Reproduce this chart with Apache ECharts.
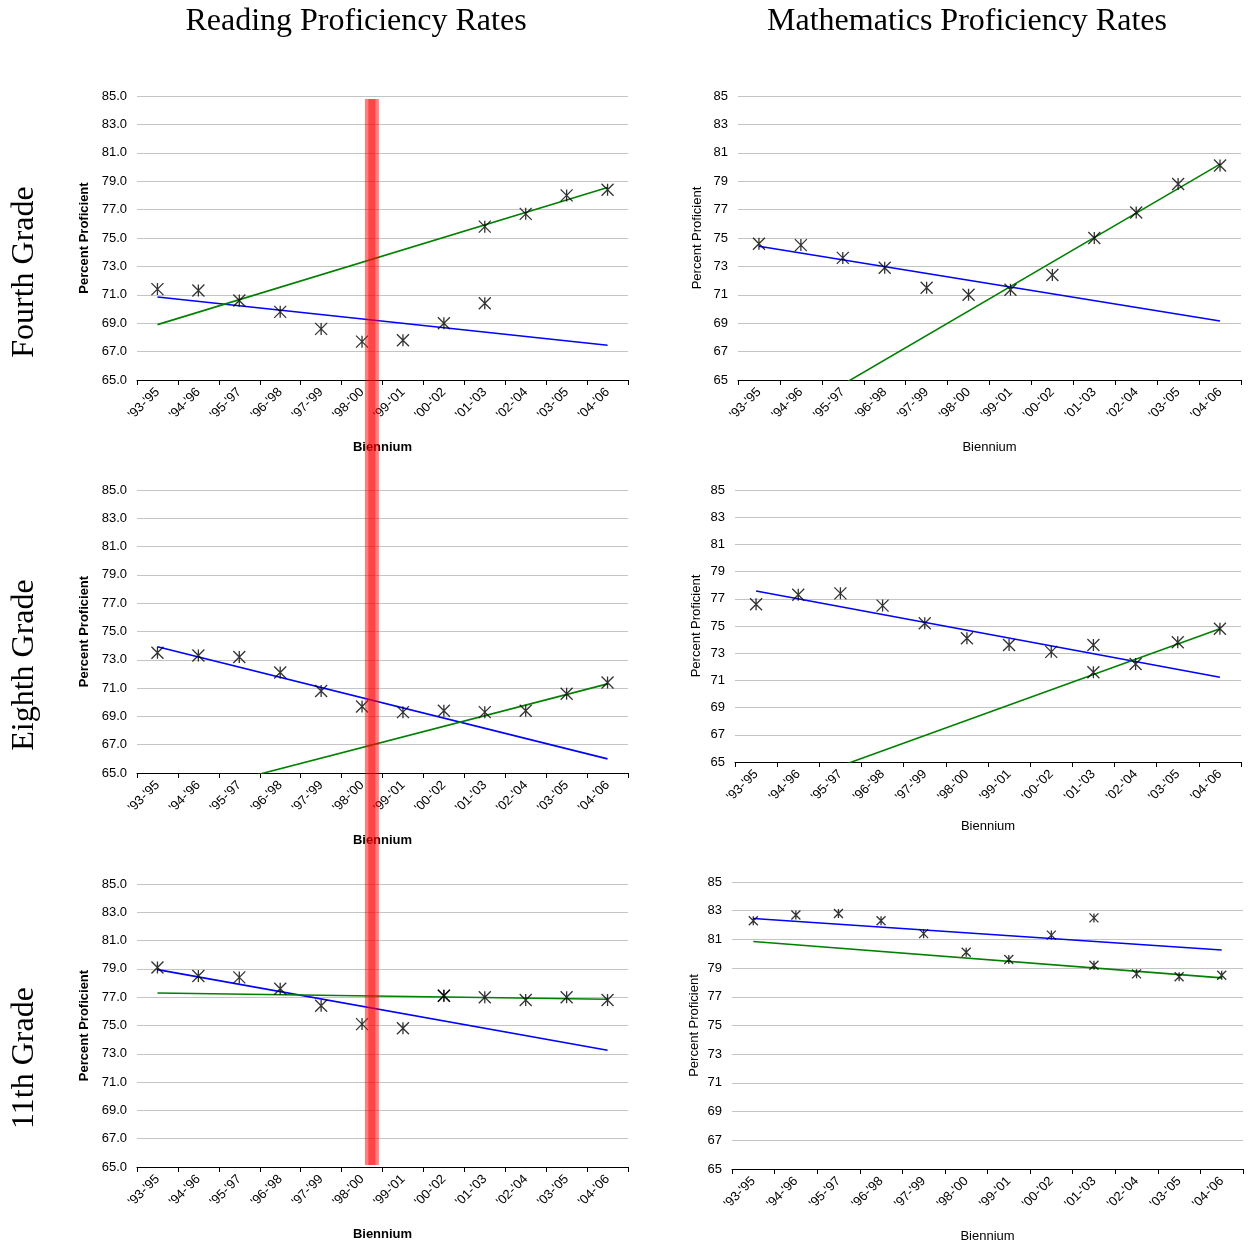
<!DOCTYPE html>
<html>
<head>
<meta charset="utf-8">
<title>Reading and Mathematics Proficiency Rates</title>
<script src="https://cdn.jsdelivr.net/npm/echarts@6/dist/echarts.min.js"></script>
<style>
  html, body { margin: 0; padding: 0; background: #fff; }
  #chart { width: 1249px; height: 1245px; }
</style>
</head>
<body>
<div id="chart"></div>
<script>
// Biennium categories shared by every panel
const categories = ["'93-'95", "'94-'96", "'95-'97", "'96-'98", "'97-'99", "'98-'00",
                    "'99-'01", "'00-'02", "'01-'03", "'02-'04", "'03-'05", "'04-'06"];

// Y-axis ticks (65 to 85 by 2)
const yMin = 65, yMax = 85, yStep = 2;

// Reading, Fourth Grade
const readFourthEarlier = [71.4, 71.3, 70.6, 69.8, 68.6, 67.7, 67.8, 69.0, 70.4, null, null, null];
const readFourthLater   = [null, null, null, null, null, null, null, null, 75.8, 76.7, 78.0, 78.4];
const readFourthTrendEarlier = [70.85, 67.45];   // values at '93-'95 and '04-'06
const readFourthTrendLater   = [68.9, 78.55];

// Mathematics, Fourth Grade
const mathFourthEarlier = [74.6, 74.5, 73.6, 72.9, 71.5, 71.0, 71.35, 72.4, null, null, null, null];
const mathFourthLater   = [null, null, null, null, null, null, null, null, 75.0, 76.8, 78.8, 80.1];
const mathFourthTrendEarlier = [74.42, 69.16];
const mathFourthTrendLater   = [61.24, 80.2];

// Reading, Eighth Grade
const readEighthEarlier = [73.5, 73.3, 73.2, 72.1, 70.8, 69.7, 69.3, 69.4, null, null, null, null];
const readEighthLater   = [null, null, null, null, null, null, null, null, 69.3, 69.4, 70.6, 71.4];
const readEighthTrendEarlier = [73.92, 66.0];
const readEighthTrendLater   = [63.05, 71.3];

// Mathematics, Eighth Grade
const mathEighthEarlier = [76.6, 77.3, 77.4, 76.5, 75.2, 74.1, 73.6, 73.1, 73.6, null, null, null];
const mathEighthLater   = [null, null, null, null, null, null, null, null, 71.6, 72.2, 73.8, 74.8];
const mathEighthTrendEarlier = [77.58, 71.23];
const mathEighthTrendLater   = [62.46, 74.79];

// Reading, 11th Grade
const readEleventhEarlier = [79.1, 78.5, 78.4, 77.6, 76.4, 75.1, 74.8, 77.1, null, null, null, null];
const readEleventhLater   = [null, null, null, null, null, null, null, 77.1, 77.0, 76.8, 77.0, 76.8];
const readEleventhTrendEarlier = [78.95, 73.25];
const readEleventhTrendLater   = [77.3, 76.85];

// Mathematics, 11th Grade
const mathEleventhEarlier = [82.3, 82.7, 82.8, 82.3, 81.4, 80.1, 79.6, 81.3, 82.5, null, null, null];
const mathEleventhLater   = [null, null, null, null, null, null, null, null, 79.2, 78.6, 78.4, 78.5];
const mathEleventhTrendEarlier = [82.46, 80.26];
const mathEleventhTrendLater   = [80.85, 78.32];

const columnTitles = ['Reading Proficiency Rates', 'Mathematics Proficiency Rates'];
const rowTitles = ['Fourth Grade', 'Eighth Grade', '11th Grade'];
const xAxisName = 'Biennium';
const yAxisName = 'Percent Proficient';

// ---- layout & styling ----
const SANS = '"Liberation Sans", Arial, sans-serif';
const SERIF = '"Liberation Serif", "Times New Roman", serif';
const BLUE = '#0000ff';
const GREEN = '#008000';
const STAR = 'path://M0,0L10,10M10,0L0,10M5,0L5,10';

const panels = [
  { grid: {left: 137, top: 96, width: 491, height: 284}, reading: true,
    earlier: readFourthEarlier, later: readFourthLater,
    trendEarlier: readFourthTrendEarlier, trendLater: readFourthTrendLater,
    xNameGap: 61, yNameGap: 46, star: 12 },
  { grid: {left: 738, top: 96, width: 503, height: 284}, reading: false,
    earlier: mathFourthEarlier, later: mathFourthLater,
    trendEarlier: mathFourthTrendEarlier, trendLater: mathFourthTrendLater,
    xNameGap: 61, yNameGap: 34, star: 12 },
  { grid: {left: 137, top: 490, width: 491, height: 283}, reading: true,
    earlier: readEighthEarlier, later: readEighthLater,
    trendEarlier: readEighthTrendEarlier, trendLater: readEighthTrendLater,
    xNameGap: 61, yNameGap: 46, star: 12 },
  { grid: {left: 735, top: 490, width: 506, height: 272}, reading: false,
    earlier: mathEighthEarlier, later: mathEighthLater,
    trendEarlier: mathEighthTrendEarlier, trendLater: mathEighthTrendLater,
    xNameGap: 58, yNameGap: 32, star: 12 },
  { grid: {left: 137, top: 884, width: 491, height: 283}, reading: true,
    earlier: readEleventhEarlier, later: readEleventhLater,
    trendEarlier: readEleventhTrendEarlier, trendLater: readEleventhTrendLater,
    xNameGap: 61, yNameGap: 46, star: 12 },
  { grid: {left: 732, top: 882, width: 511, height: 287}, reading: false,
    earlier: mathEleventhEarlier, later: mathEleventhLater,
    trendEarlier: mathEleventhTrendEarlier, trendLater: mathEleventhTrendLater,
    xNameGap: 61, yNameGap: 31, star: 9 }
];

const grid = [], xAxis = [], yAxis = [], series = [];

panels.forEach((p, i) => {
  grid.push(Object.assign({ containLabel: false }, p.grid));
  xAxis.push({
    type: 'category', gridIndex: i, data: categories, boundaryGap: true,
    axisLine: { lineStyle: { color: '#000', width: 1 } },
    axisTick: { show: true, length: 5, lineStyle: { color: '#000' } },
    axisLabel: { rotate: 45, fontFamily: SANS, fontSize: 13, color: '#000', margin: 10, interval: 0 },
    splitLine: { show: false },
    name: xAxisName, nameLocation: 'middle', nameGap: p.xNameGap,
    nameTextStyle: { fontFamily: SANS, fontSize: 13, color: '#000',
                     fontWeight: p.reading ? 'bold' : 'normal' }
  });
  yAxis.push({
    type: 'value', gridIndex: i, min: yMin, max: yMax, interval: yStep,
    axisLine: { show: false }, axisTick: { show: false },
    axisLabel: { fontFamily: SANS, fontSize: 13, color: '#000', margin: 10,
                 formatter: v => p.reading ? v.toFixed(1) : String(v) },
    splitLine: { show: true, lineStyle: { color: '#c4c4c4', width: 1 } },
    name: yAxisName, nameLocation: 'middle', nameGap: p.yNameGap,
    nameTextStyle: { fontFamily: SANS, fontSize: 13, color: '#000',
                     fontWeight: p.reading ? 'bold' : 'normal' }
  });

  const last = categories.length - 1;
  [[p.trendEarlier, BLUE], [p.trendLater, GREEN]].forEach(([t, c]) => {
    series.push({
      type: 'line', xAxisIndex: i, yAxisIndex: i,
      data: [[0, t[0]], [last, t[1]]],
      showSymbol: false, symbol: 'none', clip: true, silent: true, z: 3,
      lineStyle: { color: c, width: 1.6 }
    });
  });

  [p.earlier, p.later].forEach(arr => {
    series.push({
      type: 'scatter', xAxisIndex: i, yAxisIndex: i,
      data: arr.map((v, k) => v == null ? null : [k, v]).filter(d => d),
      symbol: STAR, symbolSize: p.star, symbolKeepAspect: true, z: 4,
      itemStyle: { color: 'rgba(0,0,0,0)', borderColor: '#000', borderWidth: 1.3 }
    });
  });
});

const graphic = [
  { type: 'text', x: 356, y: 22,
    style: { text: columnTitles[0], font: '32px ' + SERIF, fill: '#000', align: 'center', verticalAlign: 'middle' } },
  { type: 'text', x: 967, y: 22,
    style: { text: columnTitles[1], font: '32px ' + SERIF, fill: '#000', align: 'center', verticalAlign: 'middle' } }
];
const rowCenters = [272, 665, 1058];
rowTitles.forEach((t, k) => {
  graphic.push({
    type: 'text', x: 25, y: rowCenters[k], rotation: Math.PI / 2,
    style: { text: t, font: '32px ' + SERIF, fill: '#000', align: 'center', verticalAlign: 'middle' }
  });
});

const chart = echarts.init(document.getElementById('chart'), null, { renderer: 'canvas' });
chart.setOption({
  animation: false,
  backgroundColor: '#fff',
  grid, xAxis, yAxis, series, graphic
});

// Highlight band between '98-'00 and '99-'01 spanning the three reading panels
const xA = chart.convertToPixel({ xAxisIndex: 0 }, 5);
const xB = chart.convertToPixel({ xAxisIndex: 0 }, 6);
const bandCenter = xA + (xB - xA) * 0.24;
const bandTop = chart.convertToPixel({ yAxisIndex: 0 }, yMax) + 3;
const bandBottom = chart.convertToPixel({ yAxisIndex: 4 }, yMin) - 2;
graphic.push(
  { type: 'rect', z: 100, silent: true,
    shape: { x: bandCenter - 7, y: bandTop, width: 14, height: bandBottom - bandTop },
    style: { fill: 'rgba(255,0,0,0.5)' } },
  { type: 'rect', z: 101, silent: true,
    shape: { x: bandCenter - 3.5, y: bandTop, width: 7, height: bandBottom - bandTop },
    style: { fill: 'rgba(255,0,0,0.45)' } }
);
chart.setOption({ graphic });
</script>
</body>
</html>
